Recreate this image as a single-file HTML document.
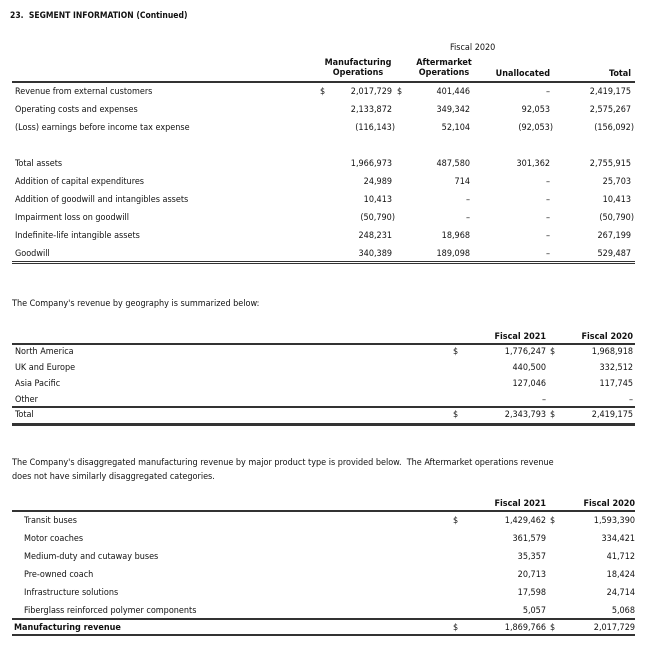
<!DOCTYPE html>
<html><head><meta charset="utf-8"><style>
body{margin:0;width:654px;height:648px;background:#fff;position:relative;font-family:"DejaVu Sans Condensed","Liberation Sans",sans-serif;font-size:9px;color:#111;overflow:hidden}
.t{position:absolute;line-height:12px;white-space:nowrap}
.b{font-weight:bold}
.l{position:absolute;background:#333}
</style></head><body>
<div class="t b" style="left:10px;top:10px;font-size:8.5px">23.&nbsp; SEGMENT INFORMATION (Continued)</div>

<div class="t" style="left:450px;top:42px">Fiscal 2020</div>
<div class="t b" style="left:322px;top:58px;width:72px;text-align:center;line-height:10px">Manufacturing<br>Operations</div>
<div class="t b" style="left:408px;top:58px;width:72px;text-align:center;line-height:10px">Aftermarket<br>Operations</div>
<div class="t b" style="right:104px;top:68px">Unallocated</div>
<div class="t b" style="right:23px;top:68px">Total</div>
<div class="l" style="left:12px;top:81px;width:623px;height:2px"></div>

<div class="t" style="left:15px;top:86px">Revenue from external customers</div>
<div class="t" style="left:15px;top:104px">Operating costs and expenses</div>
<div class="t" style="left:15px;top:122px">(Loss) earnings before income tax expense</div>
<div class="t" style="left:15px;top:158px">Total assets</div>
<div class="t" style="left:15px;top:176px">Addition of capital expenditures</div>
<div class="t" style="left:15px;top:194px">Addition of goodwill and intangibles assets</div>
<div class="t" style="left:15px;top:212px">Impairment loss on goodwill</div>
<div class="t" style="left:15px;top:230px">Indefinite-life intangible assets</div>
<div class="t" style="left:15px;top:248px">Goodwill</div>

<div class="t" style="left:320px;top:86px">$</div>
<div class="t" style="left:397px;top:86px">$</div>
<div class="t" style="right:262px;top:86px">2,017,729</div>
<div class="t" style="right:262px;top:104px">2,133,872</div>
<div class="t" style="right:259px;top:122px">(116,143)</div>
<div class="t" style="right:262px;top:158px">1,966,973</div>
<div class="t" style="right:262px;top:176px">24,989</div>
<div class="t" style="right:262px;top:194px">10,413</div>
<div class="t" style="right:259px;top:212px">(50,790)</div>
<div class="t" style="right:262px;top:230px">248,231</div>
<div class="t" style="right:262px;top:248px">340,389</div>

<div class="t" style="right:184px;top:86px">401,446</div>
<div class="t" style="right:184px;top:104px">349,342</div>
<div class="t" style="right:184px;top:122px">52,104</div>
<div class="t" style="right:184px;top:158px">487,580</div>
<div class="t" style="right:184px;top:176px">714</div>
<div class="t" style="right:184px;top:194px">–</div>
<div class="t" style="right:184px;top:212px">–</div>
<div class="t" style="right:184px;top:230px">18,968</div>
<div class="t" style="right:184px;top:248px">189,098</div>

<div class="t" style="right:104px;top:86px">–</div>
<div class="t" style="right:104px;top:104px">92,053</div>
<div class="t" style="right:101px;top:122px">(92,053)</div>
<div class="t" style="right:104px;top:158px">301,362</div>
<div class="t" style="right:104px;top:176px">–</div>
<div class="t" style="right:104px;top:194px">–</div>
<div class="t" style="right:104px;top:212px">–</div>
<div class="t" style="right:104px;top:230px">–</div>
<div class="t" style="right:104px;top:248px">–</div>

<div class="t" style="right:23px;top:86px">2,419,175</div>
<div class="t" style="right:23px;top:104px">2,575,267</div>
<div class="t" style="right:20px;top:122px">(156,092)</div>
<div class="t" style="right:23px;top:158px">2,755,915</div>
<div class="t" style="right:23px;top:176px">25,703</div>
<div class="t" style="right:23px;top:194px">10,413</div>
<div class="t" style="right:20px;top:212px">(50,790)</div>
<div class="t" style="right:23px;top:230px">267,199</div>
<div class="t" style="right:23px;top:248px">529,487</div>
<div class="l" style="left:12px;top:261px;width:623px;height:1px"></div>
<div class="l" style="left:12px;top:263px;width:623px;height:1px"></div>

<div class="t" style="left:12px;top:298px">The Company's revenue by geography is summarized below:</div>
<div class="t b" style="right:108px;top:331px">Fiscal 2021</div>
<div class="t b" style="right:21px;top:331px">Fiscal 2020</div>
<div class="l" style="left:12px;top:343px;width:623px;height:2px"></div>
<div class="t" style="left:15px;top:346px">North America</div>
<div class="t" style="left:15px;top:362px">UK and Europe</div>
<div class="t" style="left:15px;top:378px">Asia Pacific</div>
<div class="t" style="left:15px;top:394px">Other</div>
<div class="l" style="left:12px;top:406px;width:623px;height:2px"></div>
<div class="t" style="left:15px;top:409px">Total</div>
<div class="l" style="left:12px;top:423px;width:623px;height:3px"></div>
<div class="t" style="left:453px;top:346px">$</div>
<div class="t" style="left:550px;top:346px">$</div>
<div class="t" style="left:453px;top:409px">$</div>
<div class="t" style="left:550px;top:409px">$</div>
<div class="t" style="right:108px;top:346px">1,776,247</div>
<div class="t" style="right:108px;top:362px">440,500</div>
<div class="t" style="right:108px;top:378px">127,046</div>
<div class="t" style="right:108px;top:394px">–</div>
<div class="t" style="right:108px;top:409px">2,343,793</div>
<div class="t" style="right:21px;top:346px">1,968,918</div>
<div class="t" style="right:21px;top:362px">332,512</div>
<div class="t" style="right:21px;top:378px">117,745</div>
<div class="t" style="right:21px;top:394px">–</div>
<div class="t" style="right:21px;top:409px">2,419,175</div>

<div class="t" style="left:12px;top:457px">The Company's disaggregated manufacturing revenue by major product type is provided below.&nbsp; The Aftermarket operations revenue</div>
<div class="t" style="left:12px;top:471px">does not have similarly disaggregated categories.</div>

<div class="t b" style="right:108px;top:498px">Fiscal 2021</div>
<div class="t b" style="right:19px;top:498px">Fiscal 2020</div>
<div class="l" style="left:12px;top:510px;width:623px;height:2px"></div>
<div class="t" style="left:24px;top:515px">Transit buses</div>
<div class="t" style="left:24px;top:533px">Motor coaches</div>
<div class="t" style="left:24px;top:551px">Medium-duty and cutaway buses</div>
<div class="t" style="left:24px;top:569px">Pre-owned coach</div>
<div class="t" style="left:24px;top:587px">Infrastructure solutions</div>
<div class="t" style="left:24px;top:605px">Fiberglass reinforced polymer components</div>
<div class="l" style="left:12px;top:618px;width:623px;height:2px"></div>
<div class="t b" style="left:14px;top:622px">Manufacturing revenue</div>
<div class="l" style="left:12px;top:634px;width:623px;height:2px"></div>
<div class="t" style="left:453px;top:515px">$</div>
<div class="t" style="left:550px;top:515px">$</div>
<div class="t" style="left:453px;top:622px">$</div>
<div class="t" style="left:550px;top:622px">$</div>
<div class="t" style="right:108px;top:515px">1,429,462</div>
<div class="t" style="right:108px;top:533px">361,579</div>
<div class="t" style="right:108px;top:551px">35,357</div>
<div class="t" style="right:108px;top:569px">20,713</div>
<div class="t" style="right:108px;top:587px">17,598</div>
<div class="t" style="right:108px;top:605px">5,057</div>
<div class="t" style="right:108px;top:622px">1,869,766</div>
<div class="t" style="right:19px;top:515px">1,593,390</div>
<div class="t" style="right:19px;top:533px">334,421</div>
<div class="t" style="right:19px;top:551px">41,712</div>
<div class="t" style="right:19px;top:569px">18,424</div>
<div class="t" style="right:19px;top:587px">24,714</div>
<div class="t" style="right:19px;top:605px">5,068</div>
<div class="t" style="right:19px;top:622px">2,017,729</div>
</body></html>
